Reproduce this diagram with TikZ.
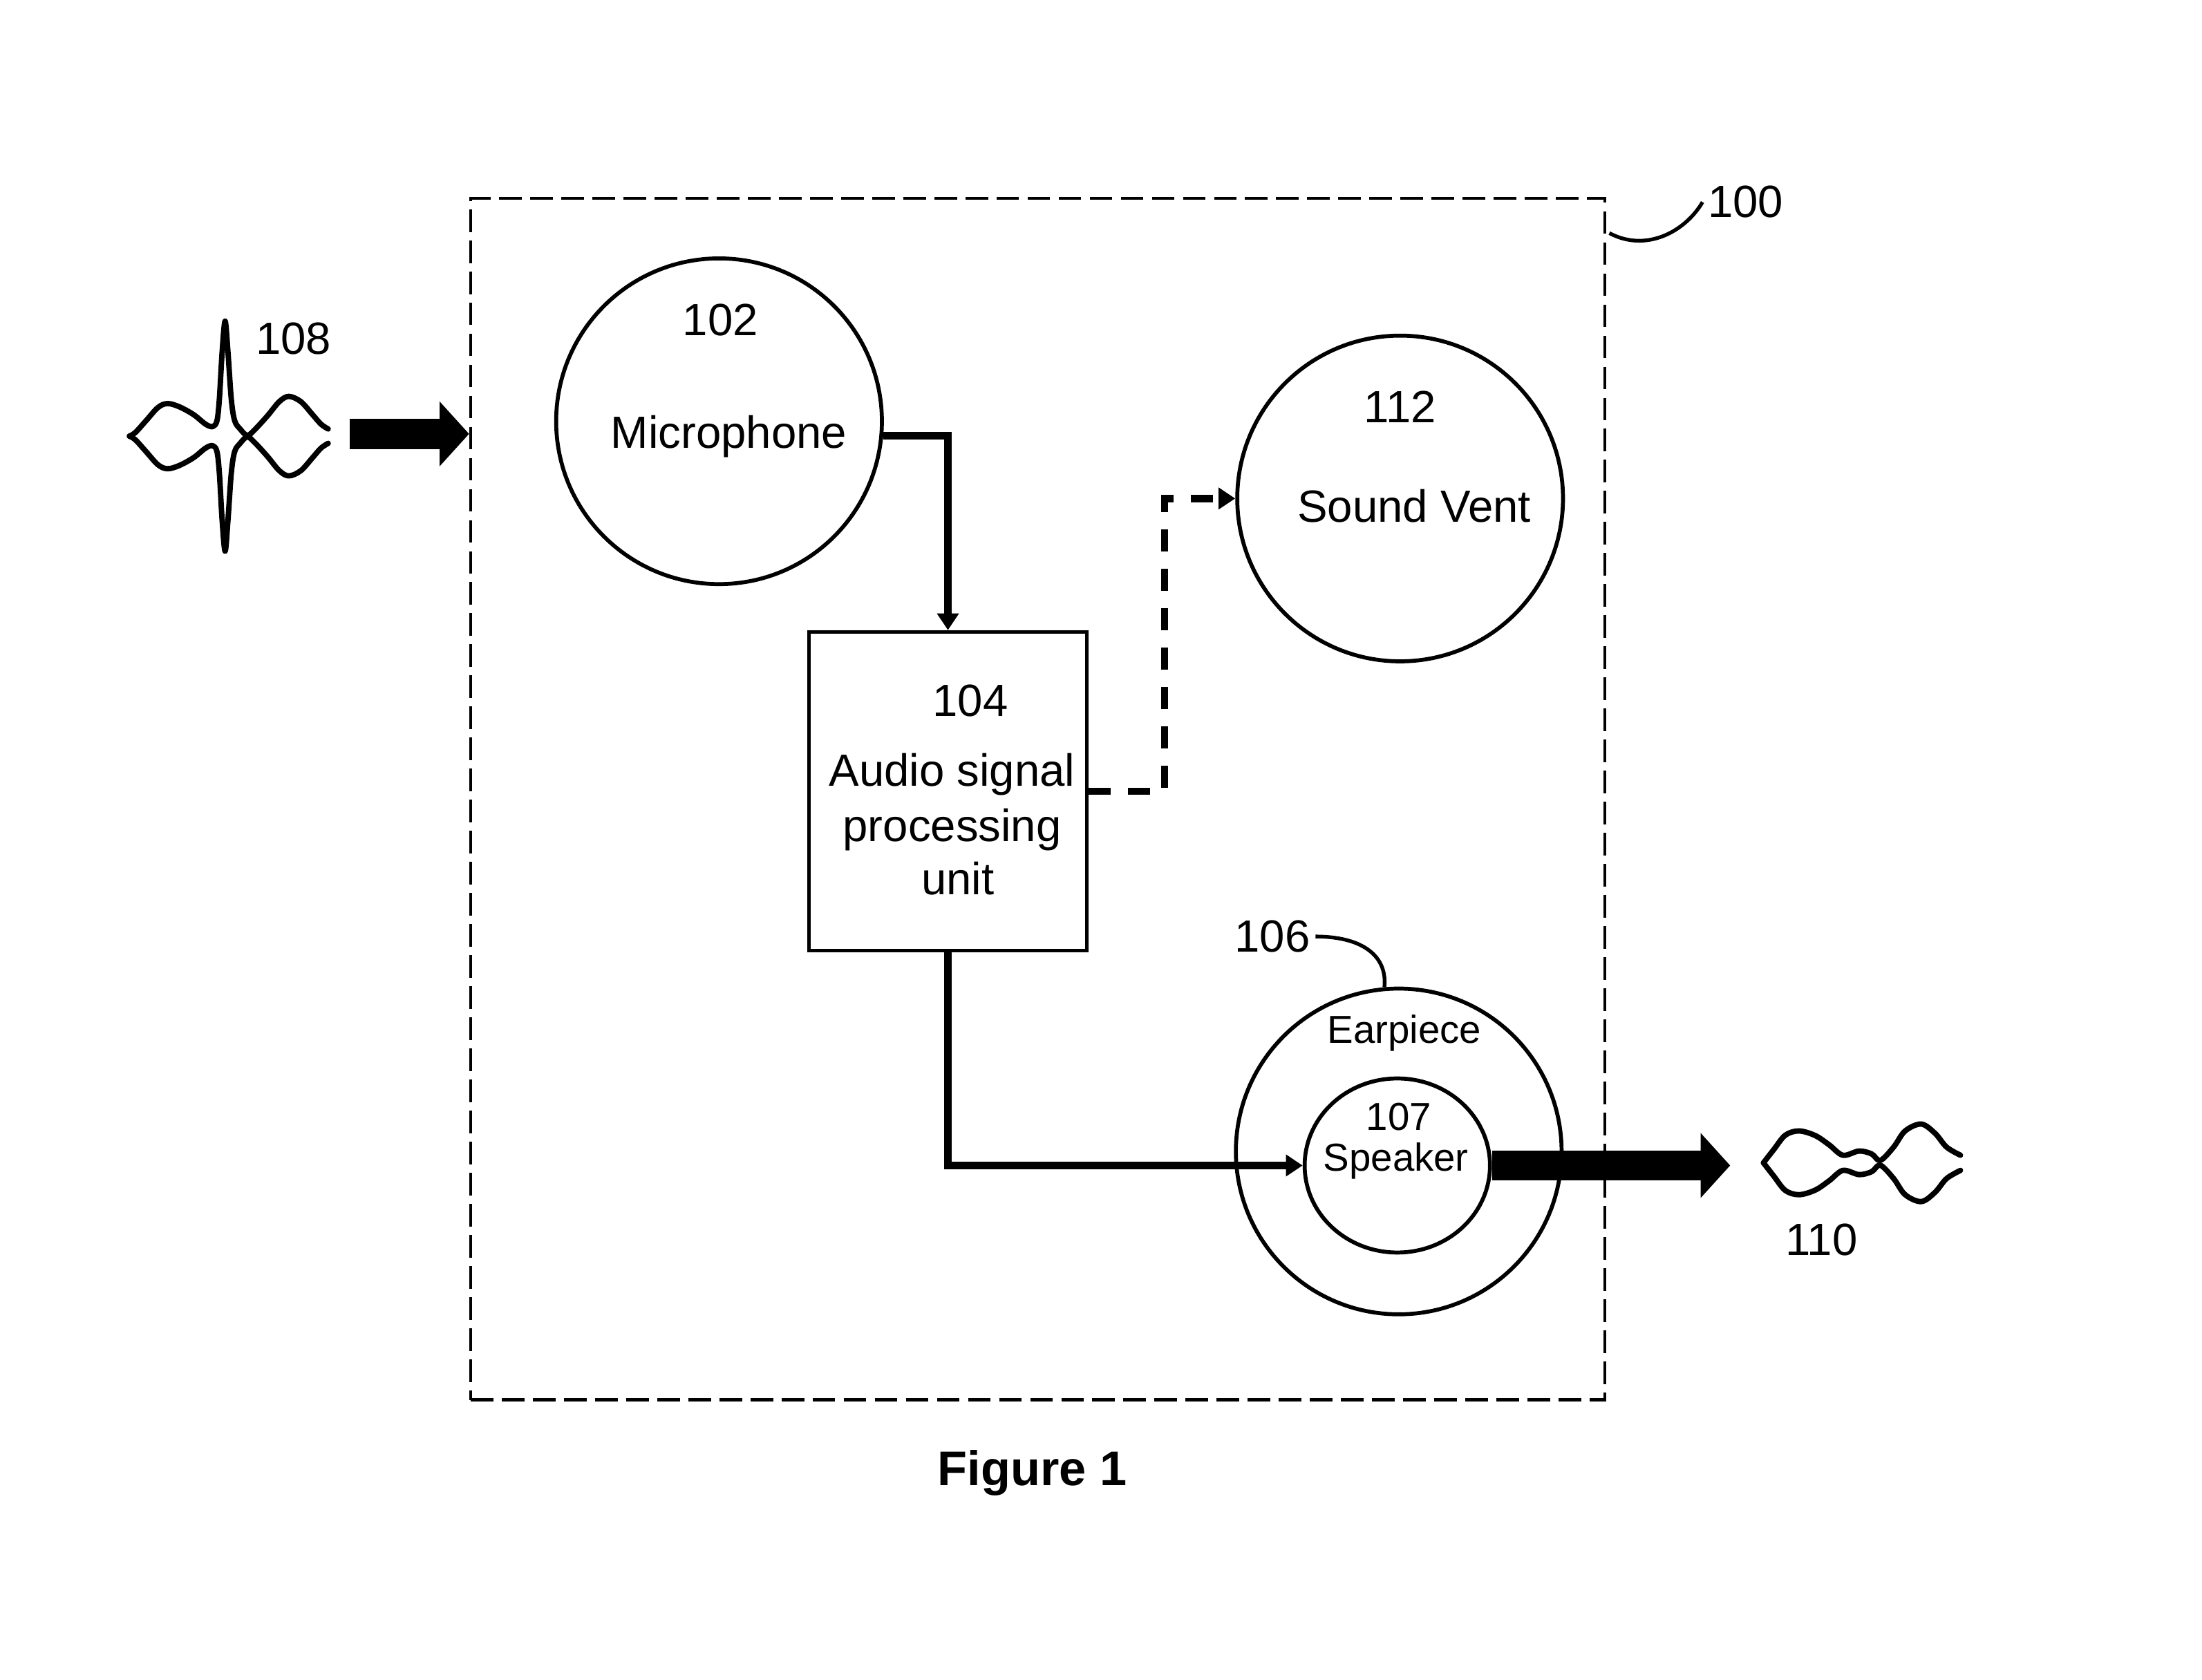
\documentclass[tikz,border=0pt]{standalone}
\usepackage{fontspec}
\setmainfont{Liberation Sans}
\usetikzlibrary{arrows.meta,shapes.geometric}
\newcommand{\dgmfont}{\fontsize{18.3}{21.8}\selectfont}
\newcommand{\dgmsmall}{\fontsize{15.8}{18}\selectfont}
\newcommand{\dgmbold}{\fontsize{19.7}{23}\selectfont\bfseries}

\begin{document}
\begin{tikzpicture}[x=0.02cm,y=-0.02cm,
  part/.style={draw=black,line width=1.6pt,circle,minimum size=4.64cm},
  link/.style={line width=3pt,-{Triangle[length=6.8pt,width=8.5pt]}},
  fat/.style={line width=12.2pt,-{Triangle[length=0.42cm,width=0.9cm]}},
  wave/.style={line width=2.2pt,line cap=round,line join=round},
  lead/.style={line width=1.5pt},
  txt/.style={font=\dgmfont,anchor=base}]
\tikzstyle{every node}+=[inner sep=0pt]
\useasboundingbox (0,0) rectangle (1568,1196);
\node [draw=black,line width=1.2pt,dash pattern=on 9.2pt off 3.4pt,minimum width=16.16cm,minimum height=17.12cm] (dev) at (739,569) {};
\node [part] (mic) at (512,300) {};
\node [part] (vent) at (997,355) {};
\node [part] (ear) at (996,820) {};
\node [draw=black,line width=1.6pt,ellipse,minimum width=2.64cm,minimum height=2.48cm] (spk) at (995,830) {};
\node [draw=black,line width=1.4pt,minimum width=3.96cm,minimum height=4.54cm] (dsp) at (675,563.5) {};
\node [txt] (l102) at (513,239) {102};
\node [txt] (lmic) at (519,319) {Microphone};
\node [txt] (l112) at (997,301) {112};
\node [txt] (lvent) at (1007,372) {Sound Vent};
\node [txt] (l104) at (691,510) {104};
\node [txt] (ldsp1) at (678,560) {Audio signal};
\node [txt] (ldsp2) at (678,599) {processing};
\node [txt] (ldsp3) at (682,637) {unit};
\node [txt,font=\dgmsmall] (lear) at (1000,743) {Earpiece};
\node [txt,font=\dgmsmall] (l107) at (996,805) {107};
\node [txt,font=\dgmsmall] (lspk) at (994,834) {Speaker};
\node [txt,inner sep=2pt] (l106) at (906,678) {106};
\node [txt,inner sep=2pt] (l100) at (1243,155) {100};
\node [txt] (l108) at (209,252) {108};
\node [txt] (l110) at (1297,894) {110};
\node [txt,font=\dgmbold] (fig) at (735,1058) {Figure 1};
\draw [link] (mic.-5) -| (dsp.north);
\draw [link,dash pattern=on 9pt off 7pt] (dsp.east) -- ++(54,0) |- (vent.west);
\draw [link] (dsp.south) |- (spk.west);
\coordinate (src) at (249,309);
\draw [fat] (src) -- (src -| dev.west);
\coordinate (dst) at (1232,830);
\draw [fat] (spk.east) -- (dst);
\coordinate (c100) at (1146,166);
\draw [lead] (c100) .. controls (1172,180) and (1200,165) .. (l100.west);
\draw [lead] (l106.east) .. controls (972,667) and (988,682) .. (ear.95);
\draw [wave] plot [smooth,tension=0.55] coordinates {(92.1,310.6) (96.4,308.0) (104.0,299.6) (112.5,290.2) (119.3,287.4) (127.7,289.7) (137.9,295.3) (146.4,302.1) (151.5,303.8) (154.5,299.6) (156.2,284.3) (158.2,250.4) (160.3,228.7) (162.3,250.4) (164.7,284.3) (167.1,299.6) (171.0,305.5) (176.0,310.1) (181.1,306.3) (190.4,296.2) (198.9,286.0) (205.7,282.3) (214.2,286.0) (222.6,295.3) (228.6,302.1) (233.7,305.5)};
\draw [wave] plot [smooth,tension=0.55] coordinates {(92.1,310.6) (96.4,313.2) (104.0,321.6) (112.5,331.0) (119.3,333.8) (127.7,331.5) (137.9,325.9) (146.4,319.1) (151.5,317.4) (154.5,321.6) (156.2,336.9) (158.2,370.8) (160.3,392.5) (162.3,370.8) (164.7,336.9) (167.1,321.6) (171.0,315.7) (176.0,311.1) (181.1,314.9) (190.4,325.0) (198.9,335.2) (205.7,338.9) (214.2,335.2) (222.6,325.9) (228.6,319.1) (233.7,315.7)};
\draw [wave] plot [smooth,tension=0.55] coordinates {(1255.7,828.1) (1263.1,818.6) (1271.3,808.4) (1281.1,805.4) (1292.6,808.7) (1302.5,815.3) (1312.3,822.7) (1323.8,819.7) (1332.8,821.8) (1338.9,826.4) (1348.4,816.9) (1356.6,805.4) (1368.1,800.5) (1377.9,807.1) (1386.1,816.9) (1396.0,822.7)};
\draw [wave] plot [smooth,tension=0.55] coordinates {(1255.7,828.1) (1263.1,837.6) (1271.3,847.8) (1281.1,850.8) (1292.6,847.5) (1302.5,840.9) (1312.3,833.5) (1323.8,836.5) (1332.8,834.4) (1338.9,829.8) (1348.4,839.3) (1356.6,850.8) (1368.1,855.7) (1377.9,849.1) (1386.1,839.3) (1396.0,833.5)};
\end{tikzpicture}
\end{document}
